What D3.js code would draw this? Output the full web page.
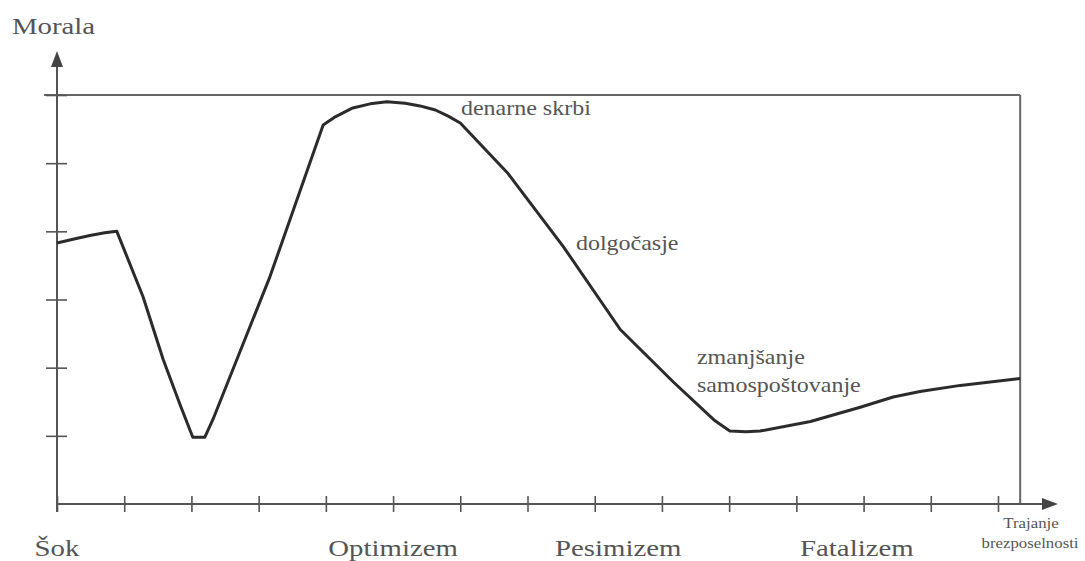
<!DOCTYPE html>
<html><head><meta charset="utf-8">
<script src="https://cdn.jsdelivr.net/npm/d3@7"></script>
<style>
html,body{margin:0;padding:0;background:#fff;}
svg{display:block;}
</style></head>
<body>
<script>
// ---- data ----
const xTickValues = [0,1,2,3,4,5,6,7,8,9,10,11,12,13,14];
const yTickValues = [1,2,3,4,5,6];
const curveX = [0, 0.27, 0.49, 0.71, 0.89, 1.28, 1.58, 1.83, 2.02, 2.20, 2.32, 3.17, 3.96, 4.14, 4.40, 4.66, 4.91, 5.18, 5.40, 5.63, 5.82, 6.00, 6.70, 7.53, 8.38, 9.17, 9.79, 10.01, 10.25, 10.46, 11.21, 11.95, 12.44, 12.84, 13.44, 14.33];
const curveY = [3.83, 3.89, 3.94, 3.98, 4.00, 3.04, 2.12, 1.46, 0.98, 0.98, 1.24, 3.34, 5.56, 5.68, 5.81, 5.87, 5.90, 5.88, 5.84, 5.78, 5.69, 5.59, 4.86, 3.78, 2.56, 1.79, 1.22, 1.07, 1.06, 1.07, 1.21, 1.42, 1.57, 1.65, 1.74, 1.84];
const phaseLabels = ["Šok", "Optimizem", "Pesimizem", "Fatalizem"];
const phaseX = [0, 5, 8.35, 11.9];
const noteLabels = ["denarne skrbi", "dolgočasje", "zmanjšanje", "samospoštovanje"];
const noteX = [6.01, 7.72, 9.52, 9.52];
const noteY = [5.71, 3.72, 2.05, 1.64];
const yTitle = "Morala";
const xTitle = ["Trajanje", "brezposelnosti"];

// ---- layout ----
const W = 1085, H = 561;
const FONT = "Liberation Serif, DejaVu Serif, serif";
const svg = d3.select("body").append("svg").attr("width", W).attr("height", H);
const x = d3.scaleLinear().domain([0, 14]).range([57, 998]);
const y = d3.scaleLinear().domain([0, 6]).range([504, 95]);
const axisColor = "#555";
const SX = 1.2;

// frame (top and right)
svg.append("line").attr("x1", 44).attr("x2", x(14.33)).attr("y1", y(6)).attr("y2", y(6))
  .attr("stroke", "#666").attr("stroke-width", 2);
svg.append("line").attr("x1", x(14.33)).attr("x2", x(14.33)).attr("y1", y(6)).attr("y2", y(0))
  .attr("stroke", "#666").attr("stroke-width", 2);

// x axis
const xAxis = d3.axisBottom(x).tickValues(xTickValues).tickSize(16).tickSizeOuter(0).tickFormat("");
const gx = svg.append("g").attr("transform", `translate(0,${y(0) - 8})`).call(xAxis);
gx.select(".domain").remove();
gx.selectAll(".tick line").attr("stroke", axisColor).attr("stroke-width", 1.6);
svg.append("line").attr("x1", x(0)).attr("x2", 1046).attr("y1", y(0)).attr("y2", y(0))
  .attr("stroke", axisColor).attr("stroke-width", 2);
svg.append("path").attr("d", `M1058,${y(0)} L1042,${y(0) - 6} L1042,${y(0) + 6} Z`).attr("fill", "#444");

// y axis
const yAxis = d3.axisLeft(y).tickValues(yTickValues).tickSize(21).tickSizeOuter(0).tickFormat("");
const gy = svg.append("g").attr("transform", `translate(${x(0) + 10},0)`).call(yAxis);
gy.select(".domain").remove();
gy.selectAll(".tick line").attr("stroke", axisColor).attr("stroke-width", 1.6);
svg.append("line").attr("x1", x(0)).attr("x2", x(0)).attr("y1", y(0) + 8).attr("y2", 62)
  .attr("stroke", axisColor).attr("stroke-width", 2);
svg.append("path").attr("d", `M${x(0)},51 L${x(0) - 6},67 L${x(0) + 6},67 Z`).attr("fill", "#444");

// curve
const pts = curveX.map((v, i) => [v, curveY[i]]);
const line = d3.line().x(d => x(d[0])).y(d => y(d[1])).curve(d3.curveLinear);
svg.append("path").datum(pts).attr("d", line).attr("fill", "none")
  .attr("stroke", "#2b2b2b").attr("stroke-width", 3).attr("stroke-linejoin", "round");

// texts
function txt(str, px, py, size, anchor) {
  return svg.append("text").attr("transform", `translate(${px},${py}) scale(${SX},1)`)
    .style("font-family", FONT).attr("fill", "#555")
    .attr("text-anchor", anchor || "start").attr("font-size", size).text(str);
}
txt(yTitle, 12, 34, 24);
phaseLabels.forEach((t, i) => txt(t, x(phaseX[i]), 556, 24, "middle"));
noteLabels.forEach((t, i) => txt(t, x(noteX[i]), y(noteY[i]), 20));
txt(xTitle[0], 1031, 528, 14, "middle");
txt(xTitle[1], 1030, 548, 14, "middle");
</script>
</body></html>
